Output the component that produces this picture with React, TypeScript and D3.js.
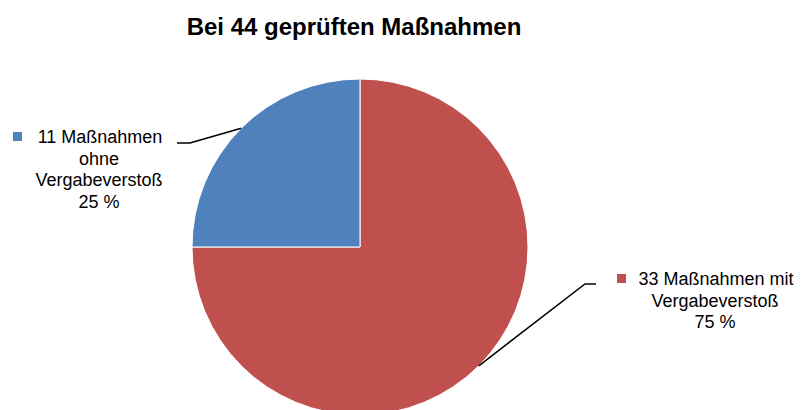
import React, { useEffect } from 'react';
import * as d3 from 'd3';

// slice data (clockwise from 12 o'clock)
const categories = ['mit Vergabeverstoß', 'ohne Vergabeverstoß'];
const counts = [33, 11];
const percentLabels = ['75 %', '25 %'];
const labelLines = [
  ['33 Maßnahmen mit', 'Vergabeverstoß', '75 %'],
  ['11 Maßnahmen', 'ohne', 'Vergabeverstoß', '25 %'],
];
const colors = ['#C0504D', '#4F81BD'];
const title = 'Bei 44 geprüften Maßnahmen';

const width = 802;
const height = 410;
const cx = 360;
const cy = 247;
const radius = 168;

// where each data label sits (text center x, first baseline y) and the elbow of its leader line
const labelLayout = [
  { x: 715, y: 285, elbowX: 585, endX: 596, elbowY: 284, markerX: 617 },
  { x: 99, y: 143, elbowX: 190, endX: 177, elbowY: 143, markerX: 13 },
];

const App = () => {
  useEffect(() => {
    document.body.style.margin = '0';
  }, []);

  const pie = d3.pie<number>().sort(null).value(d => d);
  const arcs = pie(counts);
  const arc = d3.arc<d3.PieArcDatum<number>>().innerRadius(0).outerRadius(radius);
  const edge = d3.arc<d3.PieArcDatum<number>>().innerRadius(radius).outerRadius(radius);
  const lineHeight = 21.5;

  return (
    <svg width={width} height={height} style={{ display: 'block', fontFamily: '"Liberation Sans", Arial, sans-serif' }}>
      <rect width={width} height={height} fill="#fff" />
      <text x={354} y={35} textAnchor="middle" fontSize={24} fontWeight="bold" fill="#000">
        {title}
      </text>
      <g transform={`translate(${cx},${cy})`}>
        {arcs.map((a, i) => (
          <path key={categories[i]} d={arc(a) || ''} fill={colors[i]} stroke="#fff" strokeWidth={1} />
        ))}
      </g>
      {arcs.map((a, i) => {
        const [px, py] = edge.centroid(a);
        const l = labelLayout[i];
        const pts: [number, number][] = [
          [cx + px, cy + py],
          [l.elbowX, l.elbowY],
          [l.endX, l.elbowY],
        ];
        return (
          <g key={'lbl' + i}>
            <path d={d3.line()(pts) || ''} fill="none" stroke="#000" strokeWidth={1.5} />
            <rect x={l.markerX} y={l.y - 11} width={9} height={9} fill={colors[i]} />
            <text textAnchor="middle" fontSize={18} fill="#000">
              {labelLines[i].map((t, j) => (
                <tspan key={j} x={l.x + (j === 0 ? 1 : 0)} y={l.y + j * lineHeight}>
                  {t}
                </tspan>
              ))}
            </text>
            <title>{`${categories[i]}: ${percentLabels[i]}`}</title>
          </g>
        );
      })}
    </svg>
  );
};

export default App;
